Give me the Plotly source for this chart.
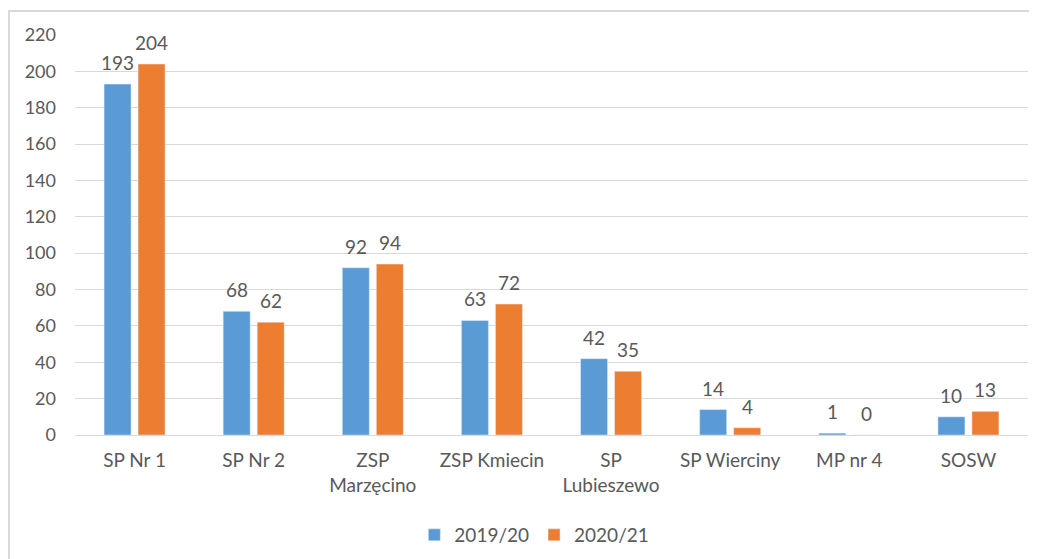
import plotly.graph_objects as go

categories = ["SP Nr 1", "SP Nr 2", "ZSP<br>Marzęcino", "ZSP Kmiecin", "SP<br>Lubieszewo",
              "SP Wierciny", "MP nr 4", "SOSW"]
values_2019 = [193, 68, 92, 63, 42, 14, 1, 10]
values_2020 = [204, 62, 94, 72, 35, 4, 0, 13]
y_ticks = list(range(0, 221, 20))

FONT = "Lato, 'Open Sans', sans-serif"
GREY = "#595959"
BAR_SHIFT = 17  # half of one bar slot in pixels

fig = go.Figure()
fig.add_trace(go.Bar(x=categories, y=values_2019, name="2019/20", marker=dict(color="#5b9bd5")))
fig.add_trace(go.Bar(x=categories, y=values_2020, name="2020/21", marker=dict(color="#ed7d31")))

# value labels, placed by the axes, lifted a bit above the bars like in Excel
for vals, shift in [(values_2019, -BAR_SHIFT), (values_2020, BAR_SHIFT)]:
    for cat, v in zip(categories, vals):
        fig.add_annotation(x=cat, y=v, text=str(v), showarrow=False,
                           xshift=shift, yshift=8, yanchor="bottom",
                           font=dict(size=19, color=GREY, family=FONT))

# outer chart border like the Excel frame
fig.add_shape(type="rect", xref="paper", yref="paper",
              x0=-0.0693, x1=1.03, y0=-0.35, y1=1.06,
              line=dict(color="#d9d9d9", width=2), fillcolor="rgba(0,0,0,0)", layer="below")

fig.update_layout(
    width=1037, height=559,
    margin=dict(l=67, r=17, t=27, b=132, autoexpand=False),
    paper_bgcolor="white", plot_bgcolor="white",
    barmode="group", bargap=0.429, bargroupgap=0.206,
    font=dict(family=FONT, size=18, color=GREY),
    showlegend=True,
    legend=dict(orientation="h", x=0.482, xanchor="center", y=-0.25, yanchor="middle",
                font=dict(size=19, color=GREY, family=FONT), itemwidth=30),
    xaxis=dict(showgrid=False, showline=False, ticks="", automargin=False,
               ticklabelstandoff=12, tickfont=dict(size=19, color=GREY)),
    yaxis=dict(range=[0, 220], tickvals=y_ticks, showgrid=True, gridcolor="#d9d9d9",
               zeroline=True, zerolinecolor="#d9d9d9", zerolinewidth=1, automargin=False,
               ticks="", ticklabelstandoff=18, tickfont=dict(size=18, color=GREY)),
)

fig.write_html("out.html")
